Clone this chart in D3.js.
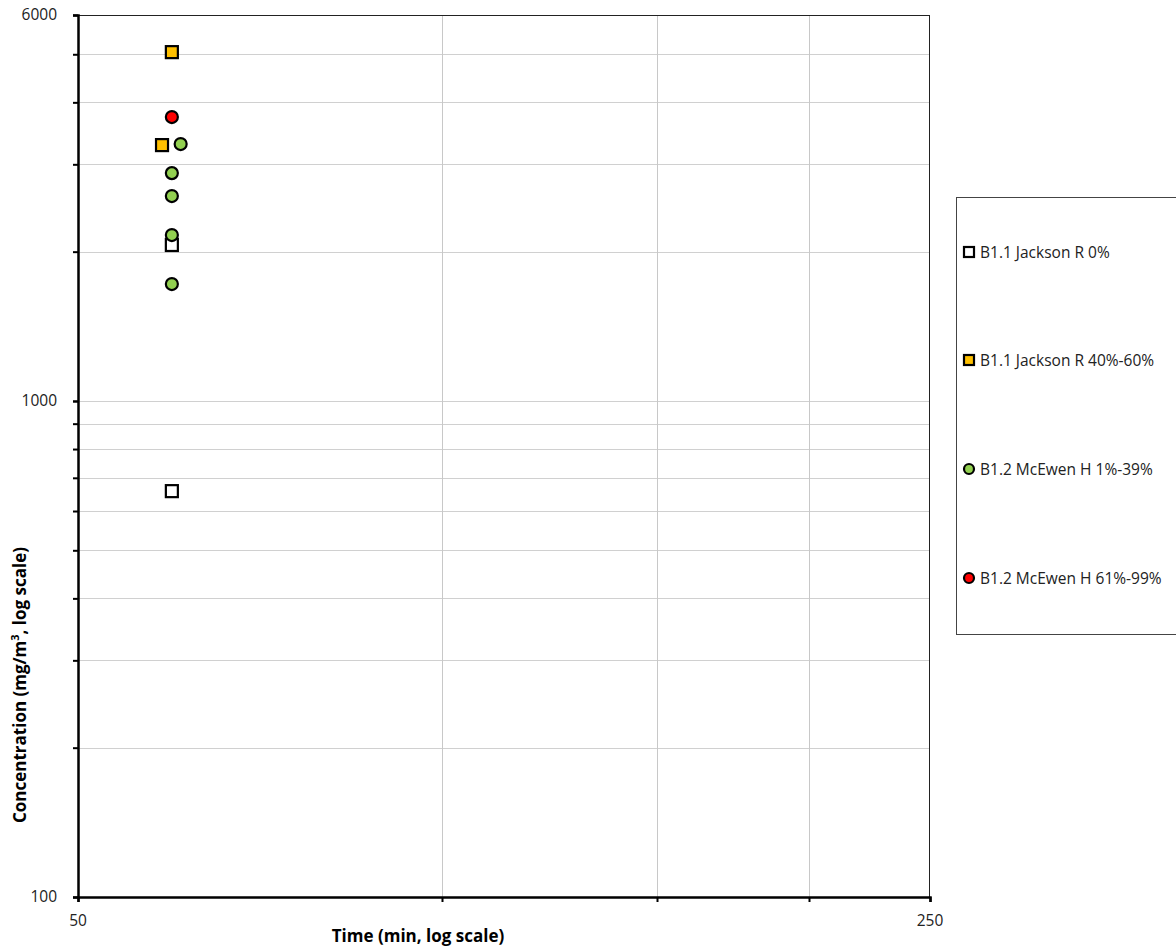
<!DOCTYPE html>
<html>
<head>
<meta charset="utf-8">
<script src="https://cdn.jsdelivr.net/npm/d3@7"></script>
<style>
  body { margin: 0; background: #fff; }
  text { font-family: "Open Sans", Lato, sans-serif; }
</style>
</head>
<body>
<div id="chart"></div>
<script>
// series data: [time (min), concentration (mg/m3)]
var jacksonZero = [[59.7, 2063], [59.7, 658]];
var jacksonMid = [[59.7, 5050], [58.6, 3280]];
var mcewenLow = [[60.7, 3296], [59.7, 2880], [59.7, 2589], [59.7, 2160], [59.7, 1721]];
var mcewenHigh = [[59.7, 3736]];

var seriesNames = ["B1.1 Jackson R 0%", "B1.1 Jackson R 40%-60%", "B1.2 McEwen H 1%-39%", "B1.2 McEwen H 61%-99%"];
var xGrid = [100, 150, 200];
var yGrid = [200, 300, 400, 500, 600, 700, 800, 900, 1000, 2000, 3000, 4000, 5000];
var xLabels = [50, 250];
var yLabels = [100, 1000, 6000];

var svgWidth = 1176;
var svgHeight = 946;
var margin = { top: 15, right: 246, bottom: 49, left: 78 };
var width = svgWidth - margin.left - margin.right;
var height = svgHeight - margin.top - margin.bottom;

var svg = d3.select("#chart")
    .append("svg")
    .attr("width", svgWidth)
    .attr("height", svgHeight);

var chartGroup = svg.append("g")
    .attr("transform", `translate(${margin.left}, ${margin.top})`);

var xScale = d3.scaleLog().domain([50, 250]).range([0, width]);
var yScale = d3.scaleLog().domain([100, 6000]).range([height, 0]);

// gridlines
chartGroup.append("g")
    .selectAll("line")
    .data(yGrid)
    .enter()
    .append("line")
    .attr("x1", 0)
    .attr("x2", width)
    .attr("y1", d => Math.round(yScale(d)) + 0.5)
    .attr("y2", d => Math.round(yScale(d)) + 0.5)
    .attr("stroke", "#d0d0d0")
    .attr("stroke-width", 1);

chartGroup.append("g")
    .selectAll("line")
    .data(xGrid)
    .enter()
    .append("line")
    .attr("x1", d => Math.round(xScale(d)) - 2.5)
    .attr("x2", d => Math.round(xScale(d)) - 2.5)
    .attr("y1", 0)
    .attr("y2", height)
    .attr("stroke", "#c8c8c8")
    .attr("stroke-width", 1);

// top and right border
chartGroup.append("line")
    .attr("x1", 0).attr("x2", width).attr("y1", 0.5).attr("y2", 0.5)
    .attr("stroke", "#222").attr("stroke-width", 1);
chartGroup.append("line")
    .attr("x1", width - 0.5).attr("x2", width - 0.5).attr("y1", 0).attr("y2", height)
    .attr("stroke", "#222").attr("stroke-width", 1);

// axes
var bottomAxis = d3.axisBottom(xScale)
    .tickValues(xLabels)
    .tickSize(5)
    .tickFormat("");
var leftAxis = d3.axisLeft(yScale)
    .tickValues(yGrid.concat(yLabels))
    .tickSize(5)
    .tickFormat("");

var xAxis = chartGroup.append("g")
    .attr("transform", `translate(0, ${height})`)
    .call(bottomAxis);
var yAxis = chartGroup.append("g")
    .call(leftAxis);

// ticks under the x gridlines
xAxis.selectAll(".gridtick")
    .data(xGrid)
    .enter()
    .append("line")
    .attr("x1", d => Math.round(xScale(d)) - 2.5)
    .attr("x2", d => Math.round(xScale(d)) - 2.5)
    .attr("y1", 0)
    .attr("y2", 5);

[xAxis, yAxis].forEach(function (ax) {
    ax.select(".domain").attr("stroke", "#000").attr("stroke-width", 2.5);
    ax.selectAll("line").attr("stroke", "#000").attr("stroke-width", 2);
});

// tick labels
chartGroup.append("g")
    .selectAll("text")
    .data(yLabels)
    .enter()
    .append("text")
    .attr("x", -21)
    .attr("y", d => yScale(d) + 5)
    .attr("text-anchor", "end")
    .attr("font-size", "15.5px")
    .attr("fill", "#222")
    .text(d => d);

chartGroup.append("g")
    .selectAll("text")
    .data(xLabels)
    .enter()
    .append("text")
    .attr("x", d => xScale(d))
    .attr("y", height + 29)
    .attr("text-anchor", "middle")
    .attr("font-size", "15.5px")
    .attr("fill", "#222")
    .text(d => d);

// axis titles
svg.append("text")
    .attr("x", 418)
    .attr("y", 942)
    .attr("text-anchor", "middle")
    .attr("font-size", "17px")
    .attr("font-weight", "bold")
    .text("Time (min, log scale)");

var yTitle = svg.append("text")
    .attr("transform", "translate(26, 685) rotate(-90)")
    .attr("text-anchor", "middle")
    .attr("font-size", "17px")
    .attr("font-weight", "bold");
yTitle.append("tspan").text("Concentration (mg/m");
yTitle.append("tspan").attr("baseline-shift", "super").attr("font-size", "11px").text("3");
yTitle.append("tspan").text(", log scale)");

// markers
function drawSquares(data, fill) {
    chartGroup.append("g")
        .selectAll("rect")
        .data(data)
        .enter()
        .append("rect")
        .attr("x", d => xScale(d[0]) - 6)
        .attr("y", d => yScale(d[1]) - 6)
        .attr("width", 12)
        .attr("height", 12)
        .attr("fill", fill)
        .attr("stroke", "#000")
        .attr("stroke-width", 2.2);
}
function drawCircles(data, fill) {
    chartGroup.append("g")
        .selectAll("circle")
        .data(data)
        .enter()
        .append("circle")
        .attr("cx", d => xScale(d[0]))
        .attr("cy", d => yScale(d[1]))
        .attr("r", 6)
        .attr("fill", fill)
        .attr("stroke", "#000")
        .attr("stroke-width", 2.2);
}
drawSquares(jacksonZero, "#ffffff");
drawSquares(jacksonMid, "#ffc000");
drawCircles(mcewenLow, "#92d050");
drawCircles(mcewenHigh, "#ff0000");

// legend
var legend = svg.append("g");
legend.append("rect")
    .attr("x", 956.5)
    .attr("y", 197.5)
    .attr("width", 230)
    .attr("height", 437)
    .attr("fill", "#fff")
    .attr("stroke", "#444")
    .attr("stroke-width", 1);

var legendY = [252, 360, 469, 578];
var legendFill = ["#ffffff", "#ffc000", "#92d050", "#ff0000"];
seriesNames.forEach(function (name, i) {
    if (i < 2) {
        legend.append("rect")
            .attr("x", 964)
            .attr("y", legendY[i] - 5)
            .attr("width", 10)
            .attr("height", 10)
            .attr("fill", legendFill[i])
            .attr("stroke", "#000")
            .attr("stroke-width", 2.2);
    } else {
        legend.append("circle")
            .attr("cx", 969)
            .attr("cy", legendY[i])
            .attr("r", 5)
            .attr("fill", legendFill[i])
            .attr("stroke", "#000")
            .attr("stroke-width", 2.2);
    }
    legend.append("text")
        .attr("x", 980)
        .attr("y", legendY[i] + 5.5)
        .attr("font-size", "15.5px")
        .attr("fill", "#222")
        .text(name);
});
</script>
</body>
</html>
